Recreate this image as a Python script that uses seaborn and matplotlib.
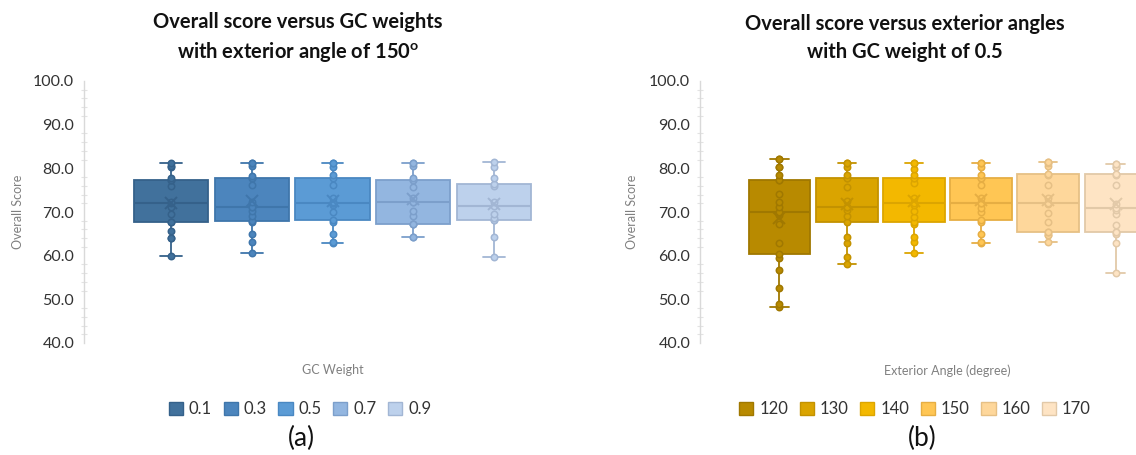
import numpy as np
import pandas as pd
import matplotlib
matplotlib.use("Agg")
import matplotlib.pyplot as plt
from matplotlib.patches import Patch
from matplotlib.ticker import MultipleLocator, FormatStrFormatter
import seaborn as sns

# ---- data: overall score per GC weight (exterior angle fixed at 150) ----
gc_weights = ["0.1", "0.3", "0.5", "0.7", "0.9"]
score_gc_01 = [60.0, 64.1, 64.1, 65.7, 67.7, 67.7, 69.5, 71.2, 72.0, 72.3, 76.0, 77.3, 77.3, 77.9, 80.2, 80.5, 81.3]
score_gc_03 = [60.7, 63.2, 64.9, 67.7, 67.9, 69.1, 70.3, 71.2, 71.2, 72.4, 76.1, 77.7, 77.7, 78.3, 80.5, 81.3, 81.3]
score_gc_05 = [62.8, 63.2, 64.9, 67.8, 68.1, 70.0, 71.5, 72.0, 72.0, 72.2, 73.3, 76.2, 77.9, 78.4, 80.3, 81.3, 81.3]
score_gc_07 = [64.3, 64.3, 67.2, 67.2, 67.2, 69.1, 70.3, 72.2, 72.3, 73.3, 75.8, 77.3, 77.3, 77.9, 80.5, 81.3, 81.3]
score_gc_09 = [59.6, 64.3, 68.1, 68.1, 68.7, 69.6, 71.4, 72.3, 76.0, 76.4, 77.9, 80.2, 81.5]

# ---- data: overall score per exterior angle (GC weight fixed at 0.5) ----
ext_angles = ["120", "130", "140", "150", "160", "170"]
score_ang_120 = [48.3, 49.0, 52.6, 56.7, 59.4, 60.3, 62.9, 67.3, 69.3, 70.1, 70.1, 71.2, 72.3, 74.2, 77.3, 77.3, 78.4, 80.2, 80.2, 82.1, 82.1]
score_ang_130 = [58.1, 59.6, 62.8, 64.3, 67.6, 69.1, 70.5, 71.2, 71.2, 72.5, 75.8, 77.7, 77.7, 78.4, 80.3, 81.3, 81.3]
score_ang_140 = [60.5, 63.2, 64.3, 67.3, 67.7, 68.9, 70.3, 71.5, 72.0, 73.1, 76.7, 77.9, 77.9, 78.4, 79.8, 81.3, 81.3]
score_ang_150 = [62.8, 63.2, 64.9, 67.8, 68.1, 69.9, 71.0, 72.0, 72.0, 73.3, 76.1, 77.7, 77.7, 78.4, 80.3, 81.3, 81.3]
score_ang_160 = [63.2, 64.8, 64.8, 65.4, 65.4, 67.8, 69.7, 71.8, 72.0, 73.3, 76.1, 78.5, 78.8, 80.5, 81.3, 81.5, 81.5]
score_ang_170 = [56.1, 62.8, 64.9, 65.4, 65.4, 67.0, 69.6, 70.5, 71.0, 71.8, 76.1, 78.4, 78.8, 80.2, 80.2, 81.1, 81.1]

# ---- colours ----
gc_fill = ["#41719C", "#4C85BD", "#5B9BD5", "#93B6E0", "#BDD1EC"]
gc_edge = ["#35618A", "#3F76AB", "#4A88C2", "#7C9FCB", "#A2B6D4"]
ang_fill = ["#B88A00", "#DAA400", "#F3B800", "#FFC654", "#FED79B", "#FEE4C4"]
ang_edge = ["#A07800", "#C39200", "#DCA500", "#E6AE43", "#E6C085", "#E2C9A8"]

sns.set_theme(style="white")
plt.rcParams["font.family"] = ["Lato", "DejaVu Sans"]
plt.rcParams["mathtext.fontset"] = "custom"
plt.rcParams["mathtext.rm"] = "Lato"
plt.rcParams["mathtext.bf"] = "Lato:bold"

W, H = 1136, 455
fig = plt.figure(figsize=(W / 100, H / 100), dpi=100)


def draw_panel(ax, cats, series, fills, edges, xlabel):
    df = pd.DataFrame({
        "group": np.concatenate([[c] * len(v) for c, v in zip(cats, series)]),
        "score": np.concatenate(series),
    })
    for c, f, e in zip(cats, fills, edges):
        sub = df[df["group"] == c]
        sns.boxplot(
            data=sub, x="group", y="score", order=cats, ax=ax,
            color=f, linecolor=e, linewidth=1.3, width=0.92, saturation=1,
            whis=(0, 100), showfliers=False, showmeans=True,
            meanprops=dict(marker="x", markeredgecolor=e, markersize=8,
                           markeredgewidth=1.4, zorder=5),
            medianprops=dict(color=e, linewidth=1.5),
            capwidths=0.27,
        )
        sns.stripplot(
            data=sub, x="group", y="score", order=cats, ax=ax,
            jitter=False, color=f, edgecolor=e, linewidth=1.1, size=4.6,
            zorder=4,
        )
    ax.set_ylim(40, 100)
    ax.yaxis.set_major_locator(MultipleLocator(10))
    ax.yaxis.set_minor_locator(MultipleLocator(2))
    ax.yaxis.set_major_formatter(FormatStrFormatter("%.1f"))
    for s in ("top", "right", "bottom"):
        ax.spines[s].set_visible(False)
    ax.spines["left"].set_color("#d9d9d9")
    ax.spines["left"].set_linewidth(1.0)
    ax.tick_params(axis="y", which="major", direction="inout", length=7,
                   width=1, color="#d9d9d9", labelsize=11.5,
                   labelcolor="#333333", pad=3.5)
    ax.tick_params(axis="y", which="minor", direction="inout", length=4,
                   width=0.8, color="#e3e3e3", left=True)
    ax.tick_params(axis="x", which="both", bottom=False, labelbottom=False)
    ax.set_ylabel("Overall Score", fontsize=9, color="#808080")
    ax.set_xlabel(xlabel, fontsize=9, color="#808080")
    ax.xaxis.set_label_coords(0.5, -0.08)
    ax.grid(False)


# left panel: y axis at x=84, boxes every ~80.75 px
axL = fig.add_axes([84 / W, 1 - 343 / H, 497 / W, 262 / H])
draw_panel(axL, gc_weights,
           [score_gc_01, score_gc_03, score_gc_05, score_gc_07, score_gc_09],
           gc_fill, gc_edge, "GC Weight")
axL.set_xlim(-1.077, 5.077)
axL.yaxis.set_label_coords(-60 / 497, 0.5)

# right panel: y axis at x=700, boxes every ~67 px (extends past the canvas edge)
axR = fig.add_axes([700 / W, 1 - 343 / H, 495 / W, 262 / H])
draw_panel(axR, ext_angles,
           [score_ang_120, score_ang_130, score_ang_140, score_ang_150,
            score_ang_160, score_ang_170],
           ang_fill, ang_edge, "Exterior Angle (degree)")
axR.set_xlim(-1.183, 6.183)
axR.yaxis.set_label_coords(-62 / 495, 0.5)

# titles
fig.text(298 / W, 1 - 38 / H,
         "Overall score versus GC weights\nwith exterior angle of 150$^{\\mathbf{o}}$",
         ha="center", va="center", fontsize=14.5, fontweight="bold",
         color="#111111", linespacing=1.5)
fig.text(905 / W, 1 - 38 / H,
         "Overall score versus exterior angles\nwith GC weight of 0.5",
         ha="center", va="center", fontsize=14.5, fontweight="bold",
         color="#111111", linespacing=1.5)


# legends
def legend(cats, fills, edges, xc):
    handles = [Patch(facecolor=f, edgecolor=e, linewidth=1.0, label=c)
               for c, f, e in zip(cats, fills, edges)]
    fig.legend(handles=handles, loc="center", ncol=len(cats),
               bbox_to_anchor=(xc / W, 1 - 409 / H), frameon=False,
               fontsize=12, handlelength=0.85, handleheight=0.85,
               handletextpad=0.35, columnspacing=0.7, labelcolor="#333333")


legend(gc_weights, gc_fill, gc_edge, 300)
legend(ext_angles, ang_fill, ang_edge, 915)

# panel captions
fig.text(301 / W, 1 - 438 / H, "(a)", ha="center", va="center", fontsize=19, color="#111111")
fig.text(922 / W, 1 - 438 / H, "(b)", ha="center", va="center", fontsize=19, color="#111111")

fig.savefig("out.png", dpi=100)
